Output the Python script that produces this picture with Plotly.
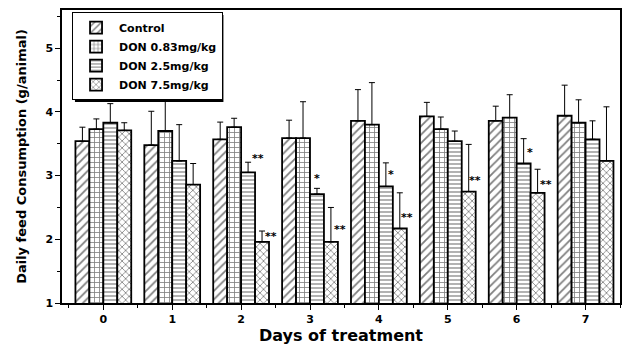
import plotly.graph_objects as go

days = [0, 1, 2, 3, 4, 5, 6, 7]
series_names = ["Control", "DON 0.83mg/kg", "DON 2.5mg/kg", "DON 7.5mg/kg"]
control = [3.54, 3.48, 3.57, 3.59, 3.86, 3.93, 3.86, 3.94]
control_err = [0.22, 0.53, 0.27, 0.28, 0.49, 0.22, 0.23, 0.48]
don083 = [3.73, 3.70, 3.76, 3.59, 3.80, 3.73, 3.91, 3.83]
don083_err = [0.16, 0.75, 0.14, 0.57, 0.66, 0.19, 0.36, 0.36]
don25 = [3.83, 3.23, 3.05, 2.71, 2.83, 3.54, 3.19, 3.57]
don25_err = [0.30, 0.57, 0.16, 0.09, 0.37, 0.16, 0.39, 0.29]
don75 = [3.71, 2.86, 1.96, 1.96, 2.17, 2.75, 2.73, 3.23]
don75_err = [0.12, 0.33, 0.17, 0.54, 0.56, 0.74, 0.37, 0.85]

# significance marks: (day, series index, text)
star_day = [2, 2, 3, 3, 4, 4, 5, 6, 6]
star_series = [2, 3, 2, 3, 2, 3, 3, 2, 3]
star_text = ["**", "**", "*", "**", "*", "**", "**", "*", "**"]
star_dx = [0.15, 0.13, 0.0, 0.13, 0.08, 0.11, 0.09, 0.09, 0.12]
star_dy = [0.06, -0.08, 0.16, -0.34, -0.19, -0.39, -0.56, -0.22, -0.24]

values = [control, don083, don25, don75]
errs = [control_err, don083_err, don25_err, don75_err]
shapes_pat = ["/", "+", "-", "x"]
sizes_pat = [6, 5, 4, 5]

FONT = "DejaVu Sans"

fig = go.Figure()
for name, v, e, sh, sz in zip(series_names, values, errs, shapes_pat, sizes_pat):
    fig.add_trace(go.Bar(
        x=days, y=v, name=name,
        marker=dict(color="white", line=dict(color="black", width=1.8),
                    pattern=dict(shape=sh, fgcolor="black", bgcolor="white",
                                 size=sz, solidity=0.3)),
        error_y=dict(type="data", symmetric=False, array=e,
                     arrayminus=[0] * len(e), color="black",
                     thickness=1, width=3),
    ))

gap = 0.19
w = (1 - gap) / 4
offsets = [(-1.5 + i) * w for i in range(4)]
for d, s, t, dx, dy in zip(star_day, star_series, star_text, star_dx, star_dy):
    top = values[s][d] + errs[s][d]
    fig.add_annotation(x=d + offsets[s] + dx, y=top + dy, text=t,
                       showarrow=False, xref="x", yref="y",
                       font=dict(family=FONT, size=11, color="black", weight="bold"))

# legend drop shadow (pixel-based paper coords)
L, T, PW, PH = 62, 10, 560, 293
def px_x(p):
    return (p - L) / PW
def px_y(p):
    return 1 - (p - T) / PH
fig.add_shape(type="rect", xref="paper", yref="paper",
              x0=px_x(75), x1=px_x(224), y0=px_y(102), y1=px_y(15),
              fillcolor="black", line=dict(width=0), layer="above")

fig.update_layout(
    width=625, height=349,
    margin=dict(l=62, r=3, t=10, b=46),
    paper_bgcolor="white", plot_bgcolor="white",
    barmode="group", bargap=gap, bargroupgap=0,
    font=dict(family=FONT, color="black"),
    showlegend=True,
    legend=dict(x=0.018, y=0.993, xanchor="left", yanchor="top",
                bgcolor="white", bordercolor="black", borderwidth=1,
                font=dict(family=FONT, size=11, color="black", weight="bold"),
                tracegroupgap=0, itemwidth=36),
)
fig.update_xaxes(range=[-0.6, 7.5], tickmode="array", tickvals=days,
                 ticktext=[str(d) for d in days],
                 showline=True, linecolor="black", linewidth=1.5, mirror=True,
                 ticks="outside", ticklen=5, tickwidth=1, tickcolor="black",
                 minor=dict(ticks="outside", ticklen=3, dtick=0.5, tick0=0.5,
                            tickcolor="black"),
                 showgrid=False, zeroline=False,
                 tickfont=dict(family=FONT, size=11, color="black", weight="bold"),
                 title=dict(text="Days of treatment", standoff=2,
                            font=dict(family=FONT, size=16, color="black", weight="bold")))
fig.update_yaxes(range=[1, 5.6], tickvals=[1, 2, 3, 4, 5],
                 showline=True, linecolor="black", linewidth=1.5, mirror=True,
                 ticks="outside", ticklen=5, tickwidth=1, tickcolor="black",
                 minor=dict(ticks="outside", ticklen=3, dtick=0.5, tick0=0.5,
                            tickcolor="black"),
                 showgrid=False, zeroline=False,
                 tickfont=dict(family=FONT, size=11, color="black", weight="bold"),
                 title=dict(text="Daily feed Consumption (g/animal)", standoff=16,
                            font=dict(family=FONT, size=13, color="black", weight="bold")))

fig.write_html("out.html")
